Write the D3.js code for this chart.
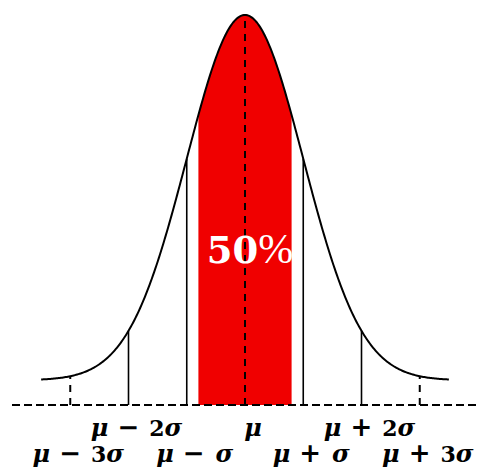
<!DOCTYPE html>
<html>
<head>
<meta charset="utf-8">
<script src="https://cdn.jsdelivr.net/npm/d3@7"></script>
<style>
  body { margin: 0; background: #fff; }
  svg { display: block; }
</style>
</head>
<body>
<div id="chart"></div>
<script>
// chart values, in units of sigma
const mu = 0;
const sigma = 1;
const axisRange = [-4, 4];        // dashed base line
const curveRange = [-3.5, 3.5];   // drawn part of the bell curve
const shadeRange = [-0.8, 0.8];   // red band
const shadeLabel = ['50', '%'];
const solidTicks = [-2, -1, 1, 2];
const dashedTicks = [-3, 0, 3];
const tickPos = [-3, -2, -1, 0, 1, 2, 3];
const tickSign = ['−', '−', '−', '', '+', '+', '+'];
const tickMult = ['3', '2', '', '', '', '2', '3'];
const tickRow = [2, 1, 2, 1, 2, 1, 2];

const width = 482, height = 469;

const svg = d3.select('#chart')
  .append('svg')
  .attr('width', width)
  .attr('height', height);

const pdf = x => Math.exp(-0.5 * ((x - mu) / sigma) ** 2) / (sigma * Math.sqrt(2 * Math.PI));

const x = d3.scaleLinear().domain(axisRange).range([12, 478]);
const y = d3.scaleLinear().domain([-0.027, pdf(mu)]).range([405, 15]);
const yBase = y.domain()[0];

const curvePts = d3.range(curveRange[0], curveRange[1] + 0.001, 0.02);
const shadePts = d3.range(shadeRange[0], shadeRange[1] + 0.001, 0.02);

// red area
svg.append('path')
  .datum(shadePts)
  .attr('fill', '#f00000')
  .attr('d', d3.area()
    .x(d => x(d))
    .y0(y(yBase))
    .y1(d => y(pdf(d))));

// base line
svg.append('line')
  .attr('x1', x(axisRange[0]))
  .attr('x2', x(axisRange[1]))
  .attr('y1', y(yBase))
  .attr('y2', y(yBase))
  .attr('stroke', '#000')
  .attr('stroke-width', 2)
  .attr('stroke-dasharray', '8 4');

// solid lines at 1 and 2 sigma
svg.selectAll('.solid')
  .data(solidTicks)
  .join('line')
  .attr('class', 'solid')
  .attr('x1', d => x(d))
  .attr('x2', d => x(d))
  .attr('y1', y(yBase))
  .attr('y2', d => y(pdf(d)))
  .attr('stroke', '#000')
  .attr('stroke-width', 1.6);

// dashed lines at mean and 3 sigma
svg.selectAll('.dashed')
  .data(dashedTicks)
  .join('line')
  .attr('class', 'dashed')
  .attr('x1', d => x(d))
  .attr('x2', d => x(d))
  .attr('y1', y(yBase))
  .attr('y2', d => y(pdf(d)))
  .attr('stroke', '#000')
  .attr('stroke-width', 2)
  .attr('stroke-dasharray', '7 6');

// bell curve
svg.append('path')
  .datum(curvePts)
  .attr('fill', 'none')
  .attr('stroke', '#000')
  .attr('stroke-width', 2)
  .attr('d', d3.line()
    .x(d => x(d))
    .y(d => y(pdf(d))));

// 50% label
const pct = svg.append('text')
  .attr('x', x(mu) + 5)
  .attr('y', 263)
  .attr('text-anchor', 'middle')
  .attr('fill', '#fff')
  .attr('font-family', 'DejaVu Serif, serif')
  .attr('font-size', 37);
pct.append('tspan').attr('font-weight', 'bold').text(shadeLabel[0]);
pct.append('tspan').attr('font-family', 'Liberation Serif, serif').attr('font-size', 42).text(shadeLabel[1]);

// tick labels, two rows
const labels = svg.selectAll('.tick')
  .data(tickPos)
  .join('text')
  .attr('class', 'tick')
  .attr('x', d => x(d) + 8)
  .attr('y', (d, i) => tickRow[i] === 1 ? 436 : 462)
  .attr('text-anchor', 'middle')
  .attr('font-family', 'DejaVu Serif, serif')
  .attr('font-weight', 'bold')
  .attr('font-size', 24);

labels.each(function (d, i) {
  const t = d3.select(this);
  t.append('tspan').attr('font-style', 'italic').text('μ');
  if (tickSign[i]) {
    t.append('tspan')
      .attr('dx', 9)
      .attr('font-family', 'DejaVu Sans, sans-serif')
      .attr('font-size', 26)
      .text(tickSign[i]);
    if (tickMult[i]) {
      t.append('tspan').attr('dx', 10).attr('font-size', 22).text(tickMult[i]);
      t.append('tspan').attr('font-style', 'italic').text('σ');
    } else {
      t.append('tspan').attr('dx', 11).attr('font-style', 'italic').text('σ');
    }
  }
});
</script>
</body>
</html>
